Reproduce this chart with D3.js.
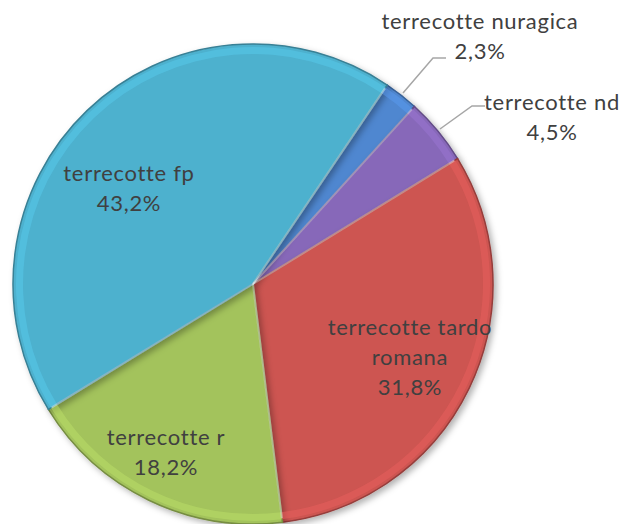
<!doctype html>
<html>
<head>
<meta charset="utf-8">
<title>terrecotte</title>
<style>
  body { margin: 0; background: #fff; }
  svg text { font-family: Lato, "Open Sans", "Liberation Sans", sans-serif; fill: #404040; letter-spacing: 0.7px; }
</style>
</head>
<body>
<div id="chart"></div>
<script src="https://cdn.jsdelivr.net/npm/d3@7"></script>
<script>
// dati
var categories = ["terrecotte nuragica", "terrecotte nd", "terrecotte tardo romana", "terrecotte r", "terrecotte fp"];
var values = [2.3, 4.5, 31.8, 18.2, 43.2];
var colors = ["#4f87d0", "#8767b9", "#cd5451", "#a3c35b", "#4eb1ce"];

// righe delle etichette e posizione (x, y della prima riga)
var labelLines = [
  ["terrecotte nuragica", "2,3%"],
  ["terrecotte nd", "4,5%"],
  ["terrecotte tardo", "romana", "31,8%"],
  ["terrecotte r", "18,2%"],
  ["terrecotte fp", "43,2%"]
];
var labelPos = [[480, 29], [552, 110], [410, 335], [166, 445], [129, 181]];
// linee guida per le etichette esterne
var leaders = [
  [[403, 93], [433, 58], [446, 58]],
  [[440, 129], [472, 106], [485, 106]]
];

var width = 620, height = 524;
var cx = 253, cy = 284, radius = 240;
var start = 34 * Math.PI / 180;

var svg = d3.select("#chart").append("svg")
  .attr("width", width).attr("height", height);

var defs = svg.append("defs");
var shadow = defs.append("filter").attr("id", "shadow")
  .attr("x", "-10%").attr("y", "-10%").attr("width", "120%").attr("height", "120%");
shadow.append("feDropShadow").attr("dx", 3).attr("dy", 3).attr("stdDeviation", 3)
  .attr("flood-color", "#000").attr("flood-opacity", 0.3);

var pie = d3.pie().sort(null).value(function(d) { return d; })
  .startAngle(start).endAngle(start + 2 * Math.PI);
var arcs = pie(values);

var arc = d3.arc().innerRadius(0).outerRadius(radius);
var rim = d3.arc().innerRadius(radius - 10).outerRadius(radius - 3);

var g = svg.append("g").attr("transform", "translate(" + cx + "," + cy + ")");

// spicchi
g.selectAll("path.slice")
  .data(arcs)
  .enter()
  .append("path")
  .attr("class", "slice")
  .attr("d", arc)
  .attr("fill", function(d, i) { return colors[i]; })
  .attr("stroke", function(d, i) { return d3.color(colors[i]).darker(0.9); })
  .attr("stroke-width", 1.5)
  .attr("filter", "url(#shadow)");

// effetto bordo smussato
g.selectAll("path.rim")
  .data(arcs)
  .enter()
  .append("path")
  .attr("class", "rim")
  .attr("d", rim)
  .attr("fill", function(d, i) { return d3.color(colors[i]).brighter(0.35); })
  .attr("opacity", 0.55);

// separatori chiari
g.selectAll("line.sep")
  .data(arcs)
  .enter()
  .append("line")
  .attr("class", "sep")
  .attr("x1", 0).attr("y1", 0)
  .attr("x2", function(d) { return Math.sin(d.startAngle) * (radius - 4); })
  .attr("y2", function(d) { return -Math.cos(d.startAngle) * (radius - 4); })
  .attr("stroke", "rgba(255,255,255,0.4)")
  .attr("stroke-width", 2);

// linee guida
svg.selectAll("polyline.leader")
  .data(leaders)
  .enter()
  .append("polyline")
  .attr("class", "leader")
  .attr("points", function(d) { return d.map(function(p) { return p.join(","); }).join(" "); })
  .attr("fill", "none")
  .attr("stroke", "#a6a6a6")
  .attr("stroke-width", 1.5);

// etichette
var labels = svg.selectAll("text.lab")
  .data(labelLines)
  .enter()
  .append("text")
  .attr("class", "lab")
  .attr("text-anchor", "middle")
  .attr("font-size", "22px")
  .attr("x", function(d, i) { return labelPos[i][0]; })
  .attr("y", function(d, i) { return labelPos[i][1]; });

labels.each(function(d, i) {
  var t = d3.select(this);
  d.forEach(function(line, j) {
    t.append("tspan")
      .attr("x", labelPos[i][0])
      .attr("dy", j === 0 ? 0 : 30)
      .text(line);
  });
});
</script>
</body>
</html>
